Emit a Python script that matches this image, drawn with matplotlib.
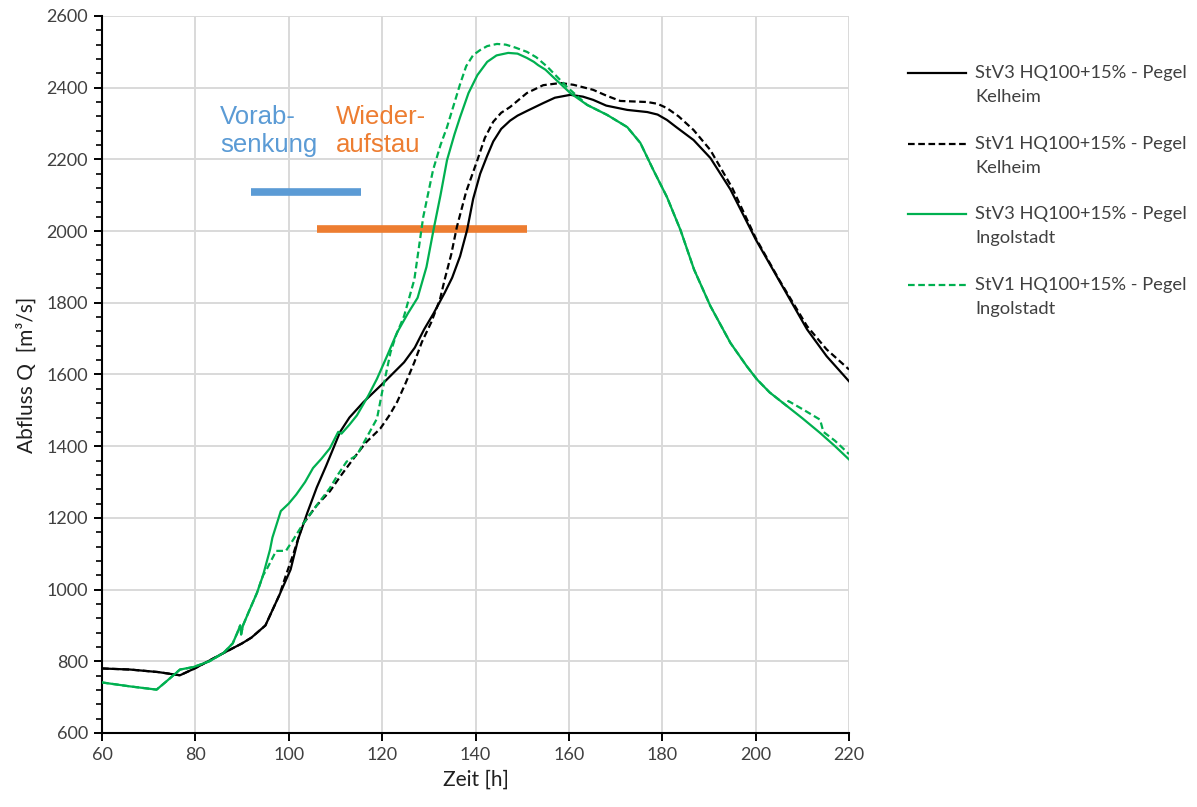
import matplotlib.pyplot as plt
from matplotlib.lines import Line2D
from matplotlib.ticker import MultipleLocator

plt.rcParams['font.family'] = ['Lato', 'DejaVu Sans']

# StV3 HQ100+15% - Pegel Kelheim
t_k3 = [60, 66, 72, 76.7, 80, 85, 90, 92, 95, 98, 100.4, 102, 104, 106, 108, 111, 113, 116,
        120.4, 124.7, 127, 129, 131, 133.4, 135, 136.7, 138.2, 139.5, 141, 142.5, 143.8, 145.5,
        147.4, 149, 151, 154.5, 157, 160.3, 163, 165.2, 168, 172.5, 176.8, 179, 181, 183,
        186.7, 190.3, 194.6, 200, 205.3, 211, 215.2, 220]
q_k3 = [780, 777, 770, 761, 781, 816, 850, 866, 900, 985, 1056, 1140, 1215, 1285, 1345, 1440, 1480, 1523,
        1578, 1634, 1675, 1726, 1770, 1828, 1870, 1930, 2003, 2090, 2160, 2210, 2250, 2285,
        2308, 2322, 2335, 2357, 2372, 2380, 2375, 2366, 2350, 2338, 2332, 2325, 2310, 2290,
        2254, 2204, 2116, 1977, 1856, 1726, 1651, 1581]

# StV1 HQ100+15% - Pegel Kelheim
t_k1 = [60, 66, 72, 76.7, 80, 85, 90, 92, 95, 98, 99.4, 101, 103, 106, 108.8, 111, 113.9, 116.5,
        119.6, 121.5, 123.2, 125, 126.9, 128.5, 130.5, 132.4, 133.4, 134.8, 136, 138, 140.4, 142,
        143.8, 145.5, 147.4, 151, 154.5, 158.2, 161, 165.2, 168, 171, 176.8, 179, 181, 183.5,
        186.7, 190.3, 195, 200, 205, 211, 215.2, 220]
q_k1 = [780, 777, 770, 761, 781, 816, 850, 866, 900, 985, 1040, 1100, 1182, 1235, 1274, 1315, 1366, 1410,
        1449, 1485, 1523, 1575, 1634, 1690, 1745, 1810, 1865, 1935, 2011, 2110, 2198, 2260,
        2305, 2330, 2346, 2385, 2407, 2413, 2408, 2394, 2378, 2363, 2360, 2355, 2343, 2320,
        2282, 2226, 2120, 1981, 1865, 1735, 1670, 1614]

# StV3 HQ100+15% - Pegel Ingolstadt
t_g3 = [60, 66, 71.7, 73.8, 76.7, 79.6, 83, 86, 88, 89, 89.6, 89.8, 90.2, 91.5, 93.2, 94.5, 96, 96.5,
        98.3, 100, 101.6, 103.5, 105.2, 107, 108.8, 110.6, 111.3, 113, 114.6, 117, 118.9, 121,
        123.2, 125.5, 127.6, 129.5, 131, 132.5, 133.9, 135.5, 136.7, 138.5, 140.4, 142.5, 144.5,
        147, 149, 151, 152.5, 153.4, 155, 156.6, 160.3, 163.9, 168.2, 172.5, 175.3, 178.1, 181,
        183.9, 186.8, 190.3, 194.6, 198.1, 200.3, 203, 206.7, 210, 213.8, 217, 220]
q_g3 = [741, 730, 721, 744, 777, 784, 800, 823, 850, 880, 900, 875, 900, 940, 991, 1040, 1112, 1145,
        1219, 1240, 1265, 1300, 1339, 1365, 1394, 1440, 1435, 1460, 1486, 1540, 1588, 1650,
        1717, 1770, 1814, 1900, 2003, 2100, 2198, 2270, 2318, 2385, 2435, 2472, 2490,
        2497, 2495, 2483, 2472, 2463, 2450, 2430, 2385, 2352, 2324, 2290, 2246, 2170, 2095,
        2003, 1893, 1791, 1688, 1623, 1586, 1550, 1512, 1478, 1437, 1400, 1363]

# StV1 HQ100+15% - Pegel Ingolstadt
t_g1 = [60, 66, 71.7, 73.8, 76.7, 79.6, 83, 86, 88, 89, 89.6, 89.8, 90.2, 91.5, 93.2, 94.5, 95.1,
        97.3, 99.4, 101, 103, 106, 108.8, 110.5, 112.4, 114.6, 116.5, 118.9, 120, 121.8, 123,
        124.7, 126.9, 128.8, 130.9, 132.5, 133.9, 135.3, 136.7, 138, 139.5, 141, 142.5, 144.6,
        146.5, 148.5, 151, 153, 155.4, 157.5, 159.6, 163.9, 168.2, 172.5, 175.3, 178.1, 181,
        183.9, 186.8, 190.3, 194.6, 198.1, 200.3, 203, 206.7, 207, 210.2, 213.8, 214.5, 217, 220]
q_g1 = [741, 730, 721, 744, 777, 784, 800, 823, 850, 880, 900, 875, 900, 940, 991, 1040, 1052,
        1108, 1108, 1140, 1182, 1235, 1283, 1320, 1357, 1375, 1420, 1477, 1551, 1662, 1710,
        1763, 1865, 2039, 2170, 2240, 2290, 2350, 2410, 2460, 2491, 2505, 2516, 2522,
        2520, 2512, 2500, 2485, 2458, 2430, 2402, 2352, 2324, 2290, 2246, 2170, 2095,
        2003, 1893, 1791, 1688, 1623, 1586, 1550, 1512, 1526, 1502, 1474, 1440, 1415, 1378]

labels = [("StV3 HQ100+15% - Pegel", "Kelheim"),
          ("StV1 HQ100+15% - Pegel", "Kelheim"),
          ("StV3 HQ100+15% - Pegel", "Ingolstadt"),
          ("StV1 HQ100+15% - Pegel", "Ingolstadt")]

# Phasen (Balken)
phase_text = ["Vorab-\nsenkung", "Wieder-\naufstau"]
phase_start = [92, 106]
phase_end = [115.5, 151]
phase_q = [2110, 2005]
phase_text_x = [85.3, 110.1]
phase_color = ['#5B9BD5', '#ED7D31']

green = '#00B050'
dash = (0, (3, 1.6))

fig = plt.figure(figsize=(11.97, 8.07), dpi=100)
ax = fig.add_axes([0.0852, 0.0917, 0.6241, 0.8885])

series = [(t_k3, q_k3, 'black', '-'),
          (t_k1, q_k1, 'black', dash),
          (t_g3, q_g3, green, '-'),
          (t_g1, q_g1, green, dash)]
for t, q, c, ls in series:
    ax.plot(t, q, color=c, linestyle=ls, linewidth=1.6, zorder=3)

for txt, x0, x1, q, tx, c in zip(phase_text, phase_start, phase_end, phase_q, phase_text_x, phase_color):
    ax.plot([x0, x1], [q, q], color=c, linewidth=5.5, solid_capstyle='butt', zorder=2)
    ax.text(tx, 2352, txt, color=c, fontsize=18.5, family='Liberation Sans',
            ha='left', va='top', linespacing=1.2)

ax.set_xlim(60, 220)
ax.set_ylim(600, 2600)
ax.xaxis.set_major_locator(MultipleLocator(20))
ax.yaxis.set_major_locator(MultipleLocator(200))
ax.yaxis.set_minor_locator(MultipleLocator(40))
ax.grid(True, which='major', color='#D9D9D9', linewidth=1.4, zorder=0)
ax.set_axisbelow(True)

for s in ['top', 'right']:
    ax.spines[s].set_visible(False)
for s in ['left', 'bottom']:
    ax.spines[s].set_linewidth(1.5)
    ax.spines[s].set_color('black')

ax.tick_params(axis='both', which='major', direction='out', length=6, width=1.4,
               labelsize=13, labelcolor='#404040', pad=4)
ax.tick_params(axis='y', which='minor', direction='out', length=4, width=1.2)

ax.set_xlabel('Zeit [h]', fontsize=15, color='#202020', labelpad=5)
ax.set_ylabel('Abfluss Q  [m³/s]', fontsize=15, color='#202020', labelpad=7)

# Legende rechts
line_y = [73, 144, 214, 285]
H = 807.0
W = 1197.0
for (l1, l2), y, (_, _, c, ls) in zip(labels, line_y, series):
    fig.add_artist(Line2D([908 / W, 966 / W], [1 - y / H, 1 - y / H], color=c,
                          linestyle=ls, linewidth=1.6, transform=fig.transFigure))
    fig.text(975 / W, 1 - y / H, l1, fontsize=13.2, color='#404040', va='center', ha='left')
    fig.text(975 / W, 1 - (y + 24) / H, l2, fontsize=13.2, color='#404040', va='center', ha='left')

fig.savefig('out.png', dpi=100)
